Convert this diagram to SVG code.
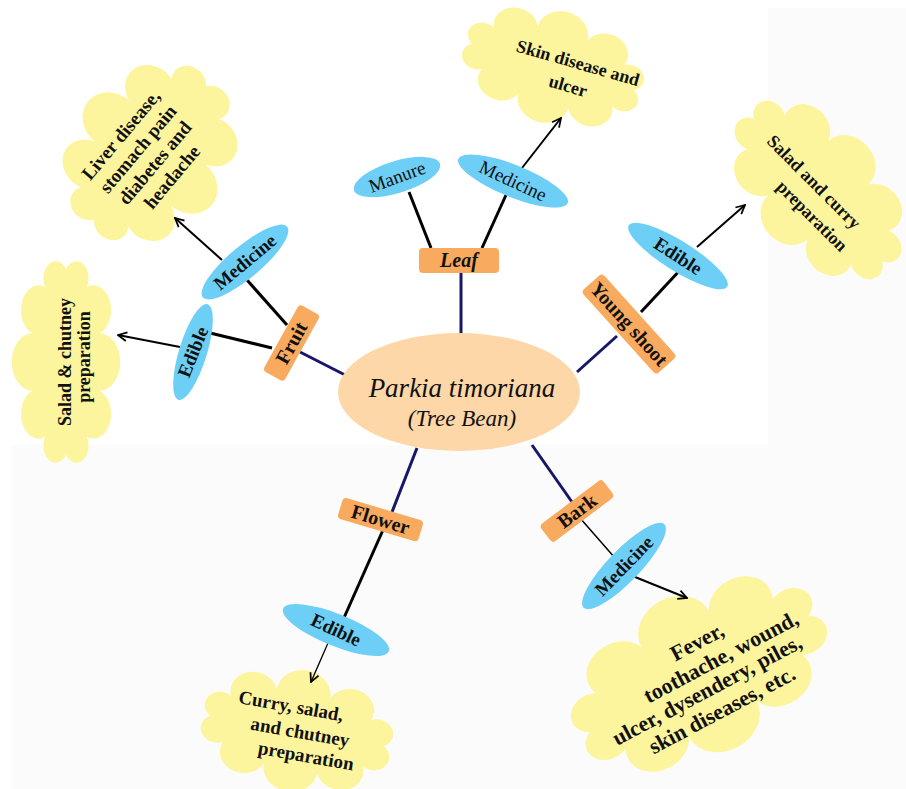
<svg xmlns="http://www.w3.org/2000/svg" width="906" height="789" viewBox="0 0 906 789">
<style>
.bg{fill:#fbfbfb}
.cloud{fill:#fdf59e}
.blue{fill:#6dcff6}
.box{fill:#f8aa5e}
.center{fill:#fdd7a7}
.navy{stroke:#17176a;stroke-width:3;fill:none}
.blk{stroke:#000;stroke-width:3;fill:none}
.thin{stroke:#000;stroke-width:1.5;fill:none}
.arr{stroke:#000;stroke-width:2;fill:none;marker-end:url(#ah)}
.arrt{stroke:#000;stroke-width:1.3;fill:none;marker-end:url(#ah)}
text{font-family:"Liberation Serif","Times New Roman",serif;fill:#111;text-anchor:middle}
.ct{font-size:18px;font-weight:bold}
.ct19{font-size:19px;font-weight:bold}
.ct22{font-size:22px;font-weight:bold}
.bt{font-size:20px;font-weight:bold}
.et{font-size:19px}
.eb{font-size:19px;font-weight:bold}
</style>
<defs>
<path id="cloudp" d="M80,0 A1,1 0 0 1 64.7,24.7 A1,1 0 0 1 24.7,39.9 A1,1 0 0 1 -24.7,39.9 A1,1 0 0 1 -64.7,24.7 A1,1 0 0 1 -80,0 A1,1 0 0 1 -64.7,-24.7 A1,1 0 0 1 -24.7,-39.9 A1,1 0 0 1 24.7,-39.9 A1,1 0 0 1 64.7,-24.7 A1,1 0 0 1 80,0 Z"/>
<marker id="ah" viewBox="0 0 10 10" markerWidth="11" markerHeight="11" refX="9" refY="5" orient="auto" markerUnits="userSpaceOnUse"><path d="M1,1 L9,5 L1,9" fill="none" stroke="#000" stroke-width="1.6"/></marker>
</defs>

<g id="background">
<rect x="0" y="0" width="906" height="789" fill="#ffffff"/>
<rect class="bg" x="12" y="445" width="894" height="344"/>
<rect class="bg" x="768" y="8" width="138" height="437"/>
</g>

<g id="cloud-skin">
<use href="#cloudp" class="cloud" transform="translate(553,67) rotate(16) scale(1.05,0.88)"/>
<text class="ct" transform="translate(578,63) rotate(16)" dy="0.33em">Skin disease and</text>
<text class="ct" transform="translate(568,86) rotate(16)" dy="0.33em">ulcer</text>
</g>
<g id="cloud-liver">
<use href="#cloudp" class="cloud" transform="translate(150,153) rotate(-50) scale(1.09,1.25)"/>
<text class="ct19" transform="translate(121,135) rotate(-50)" dy="0.33em">Liver disease,</text>
<text class="ct19" transform="translate(138,149) rotate(-50)" dy="0.33em">stomach pain</text>
<text class="ct19" transform="translate(155,163) rotate(-50)" dy="0.33em">diabetes and</text>
<text class="ct19" transform="translate(172,177) rotate(-50)" dy="0.33em">headache</text>
</g>
<g id="cloud-salad-chutney">
<use href="#cloudp" class="cloud" transform="translate(66,362) rotate(-90) scale(1.16,0.84)"/>
<text class="ct" transform="translate(65,362) rotate(-90)" dy="0.33em">Salad &amp; chutney</text>
<text class="ct" transform="translate(84,357) rotate(-90)" dy="0.33em">preparation</text>
</g>
<g id="cloud-salad-curry">
<use href="#cloudp" class="cloud" transform="translate(818,190) rotate(48) scale(1.2,1.02)"/>
<text class="ct" transform="translate(814,182) rotate(45)" dy="0.33em">Salad and curry</text>
<text class="ct" transform="translate(812,216) rotate(45)" dy="0.33em">preparation</text>
</g>
<g id="cloud-curry">
<use href="#cloudp" class="cloud" transform="translate(297,731) rotate(10) scale(1.1,0.95)"/>
<text class="ct19" transform="translate(291,706) rotate(10)" dy="0.33em">Curry, salad,</text>
<text class="ct19" transform="translate(300,732) rotate(10)" dy="0.33em">and chutney</text>
<text class="ct19" transform="translate(306,756) rotate(10)" dy="0.33em">preparation</text>
</g>
<g id="cloud-fever">
<use href="#cloudp" class="cloud" transform="translate(699,674) rotate(-28) scale(1.55,1.28)"/>
<text class="ct22" transform="translate(697,642) rotate(-28)" dy="0.33em">Fever,</text>
<text class="ct22" transform="translate(721,657) rotate(-28)" dy="0.33em">toothache, wound,</text>
<text class="ct22" transform="translate(707,690) rotate(-28)" dy="0.33em">ulcer, dysendery, piles,</text>
<text class="ct22" transform="translate(722,710) rotate(-28)" dy="0.33em">skin diseases, etc.</text>
</g>

<g id="connectors">
<line class="navy" x1="461" y1="273" x2="461" y2="334"/>
<line class="blk" x1="409" y1="192" x2="431" y2="248"/>
<line class="blk" x1="506" y1="195" x2="482" y2="248"/>
<line class="arr" x1="522" y1="168" x2="561" y2="118"/>

<line class="navy" x1="300" y1="352" x2="349" y2="377"/>
<line class="blk" x1="287" y1="325" x2="247" y2="280"/>
<line class="arr" x1="222" y1="260" x2="175" y2="218"/>
<line class="blk" x1="272" y1="348" x2="206" y2="332"/>
<line class="arr" x1="180" y1="347" x2="118" y2="335"/>

<line class="navy" x1="577" y1="372" x2="617" y2="336"/>
<line class="blk" x1="641" y1="312" x2="682" y2="268"/>
<line class="arr" x1="697" y1="247" x2="745" y2="205"/>

<line class="navy" x1="417" y1="448" x2="392" y2="512"/>
<line class="blk" x1="383" y1="530" x2="343" y2="620"/>
<line class="arrt" x1="328" y1="643" x2="311" y2="682"/>

<line class="navy" x1="532" y1="445" x2="572" y2="502"/>
<line class="thin" x1="580" y1="518" x2="615" y2="558"/>
<line class="arr" x1="635" y1="577" x2="687" y2="598"/>
</g>

<g id="center-node">
<ellipse class="center" cx="459" cy="392" rx="121" ry="59"/>
<text x="462" y="397" font-size="27" font-style="italic">Parkia timoriana</text>
<text x="462" y="426" font-size="23" font-style="italic">(Tree Bean)</text>
</g>

<g id="leaf">
<rect class="box" x="419" y="248" width="80" height="25" rx="4"/>
<text class="bt" x="459" y="267" font-style="italic">Leaf</text>
</g>
<g id="leaf-manure">
<ellipse class="blue" cx="0" cy="0" rx="45" ry="16" transform="translate(397,177) rotate(-17)"/>
<text class="et" transform="translate(397,177) rotate(-20)" dy="0.33em">Manure</text>
</g>
<g id="leaf-medicine">
<ellipse class="blue" cx="0" cy="0" rx="59" ry="16" transform="translate(513,181) rotate(22)"/>
<text class="et" transform="translate(513,181) rotate(25)" dy="0.33em">Medicine</text>
</g>

<g id="fruit">
<rect class="box" x="-38" y="-12" width="76" height="24" rx="4" transform="translate(291.5,343) rotate(-61)"/>
<text class="bt" transform="translate(291.5,343) rotate(-61)" dy="0.33em">Fruit</text>
</g>
<g id="fruit-medicine">
<ellipse class="blue" cx="0" cy="0" rx="55" ry="16" transform="translate(245,262) rotate(-40)"/>
<text class="eb" transform="translate(245,262) rotate(-40)" dy="0.33em">Medicine</text>
</g>
<g id="fruit-edible">
<ellipse class="blue" cx="0" cy="0" rx="50" ry="14" transform="translate(193,352) rotate(-73)"/>
<text class="eb" transform="translate(193,352) rotate(-68)" dy="0.33em">Edible</text>
</g>

<g id="young-shoot">
<rect class="box" x="-56" y="-14" width="112" height="28" rx="4" transform="translate(629,324) rotate(48)"/>
<text class="bt" transform="translate(629,324) rotate(48)" dy="0.33em">Young shoot</text>
</g>
<g id="shoot-edible">
<ellipse class="blue" cx="0" cy="0" rx="58" ry="15" transform="translate(678,256) rotate(32)"/>
<text class="eb" transform="translate(678,256) rotate(33)" dy="0.33em">Edible</text>
</g>

<g id="flower">
<rect class="box" x="-42" y="-11" width="84" height="22" rx="4" transform="translate(380.5,519.6) rotate(16.6)"/>
<text class="bt" transform="translate(380.5,519.6) rotate(16.6)" dy="0.33em">Flower</text>
</g>
<g id="flower-edible">
<ellipse class="blue" cx="0" cy="0" rx="57" ry="16" transform="translate(336,630) rotate(22)"/>
<text class="eb" transform="translate(336,630) rotate(25)" dy="0.33em">Edible</text>
</g>

<g id="bark">
<rect class="box" x="-39" y="-11" width="78" height="22" rx="4" transform="translate(577,511) rotate(-37)"/>
<text class="bt" transform="translate(577,511) rotate(-37)" dy="0.33em">Bark</text>
</g>
<g id="bark-medicine">
<ellipse class="blue" cx="0" cy="0" rx="58" ry="16" transform="translate(624,566) rotate(-46)"/>
<text class="eb" transform="translate(624,566) rotate(-46)" dy="0.33em">Medicine</text>
</g>
</svg>
